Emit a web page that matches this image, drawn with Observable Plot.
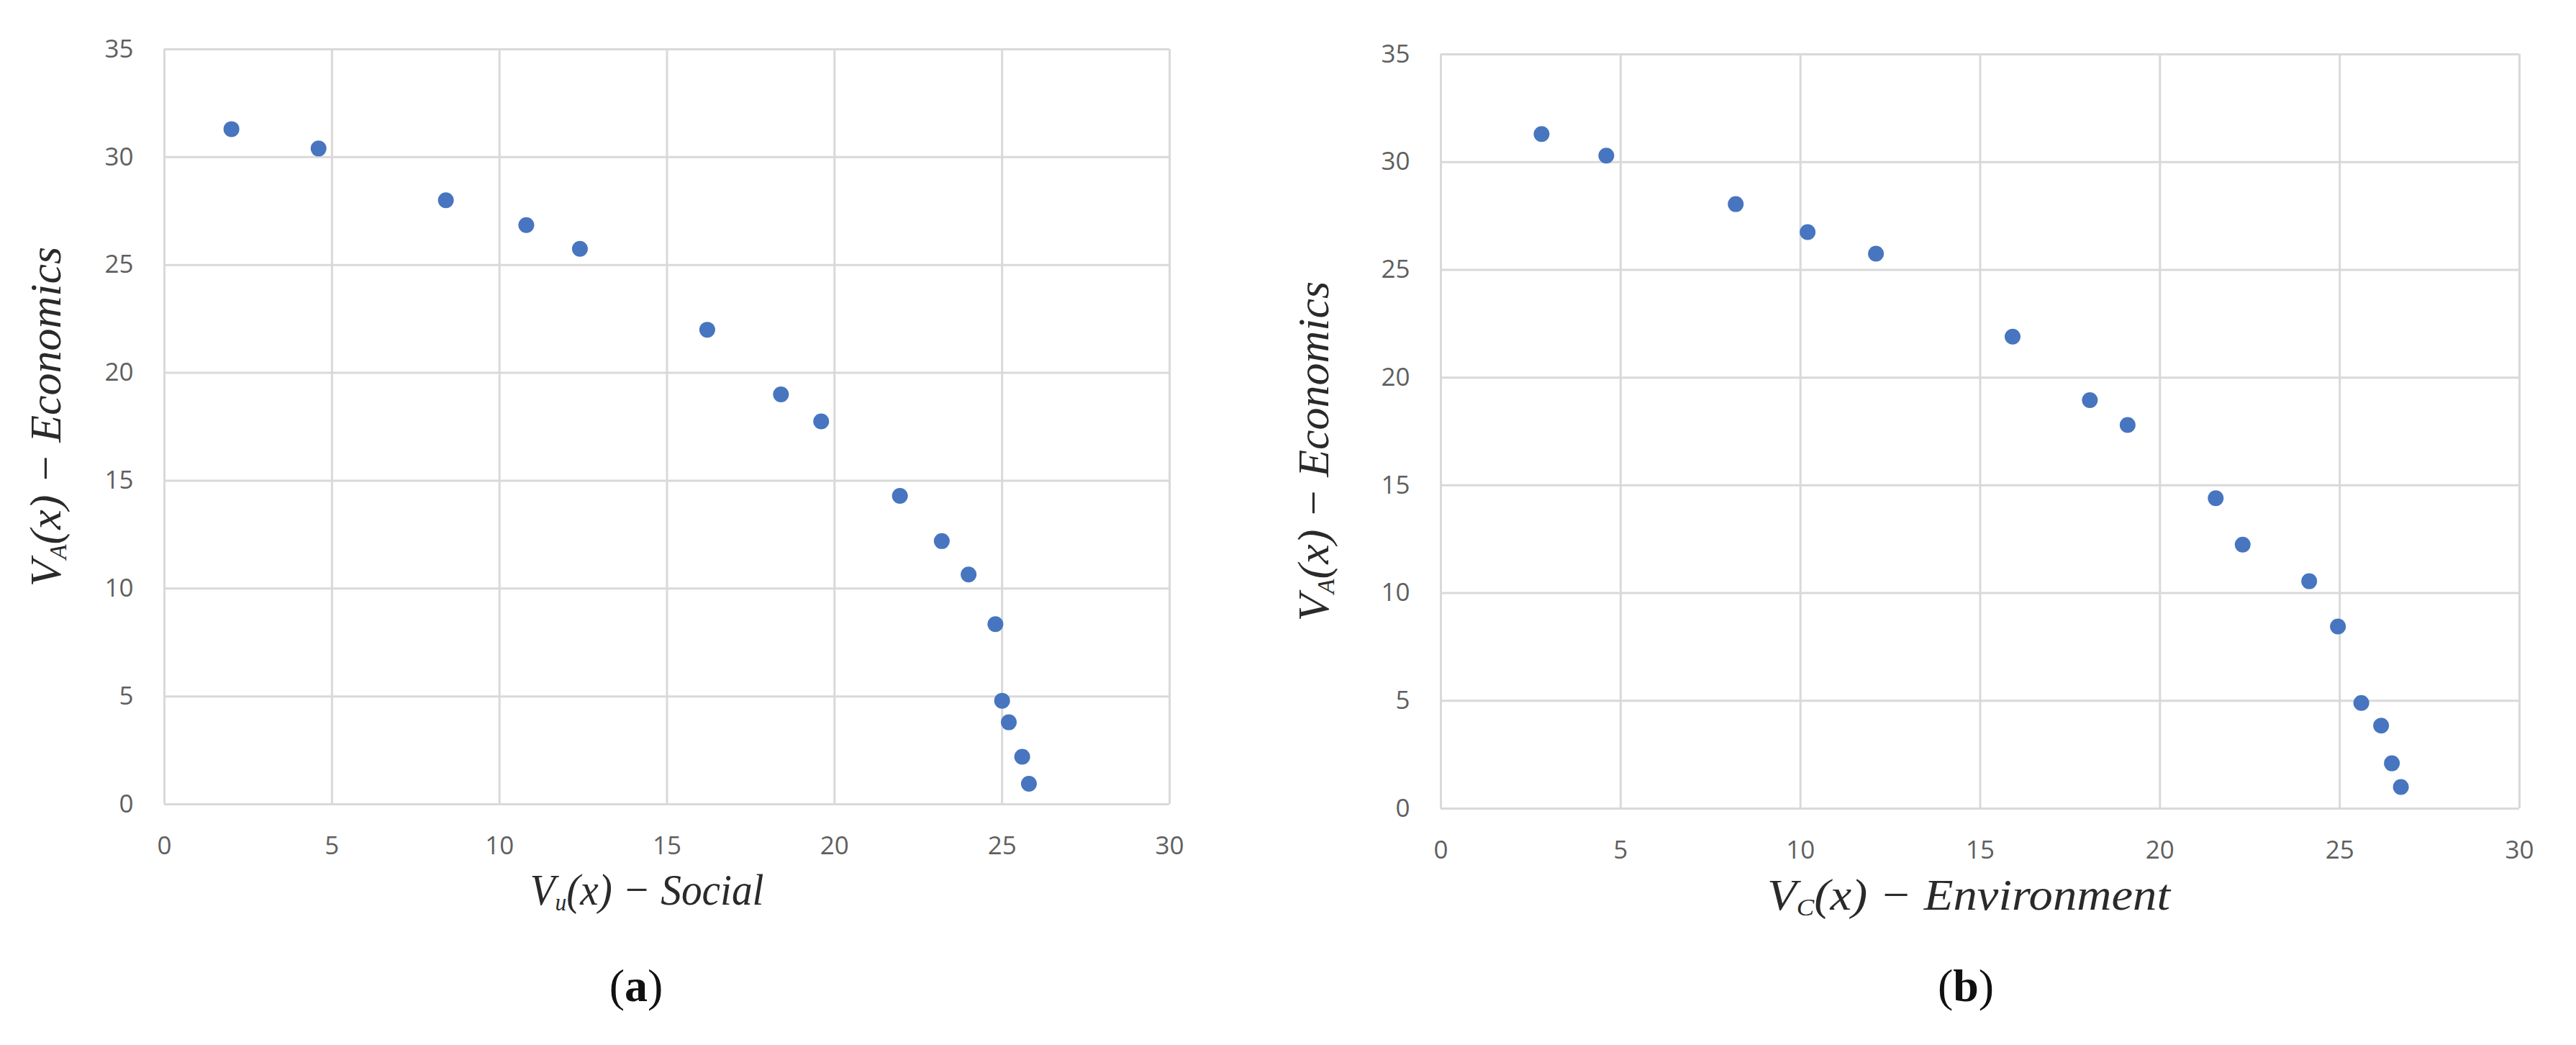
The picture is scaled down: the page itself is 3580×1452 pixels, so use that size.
<!DOCTYPE html>
<html>
<head>
<meta charset="utf-8">
<script src="https://cdn.jsdelivr.net/npm/d3@7"></script>
<script src="https://cdn.jsdelivr.net/npm/@observablehq/plot@0.6"></script>
<style>
  html, body { margin: 0; padding: 0; background: #fff; }
  #page { position: relative; width: 3580px; height: 1452px; overflow: hidden; background: #fff; }
  .panel { position: absolute; top: 0; }
  .cap { position: absolute; font-family: "Liberation Serif", "DejaVu Serif", serif; font-size: 64px; color: #111; transform: translate(-50%, -50%); white-space: nowrap; }
  .cap b { font-weight: bold; }
</style>
</head>
<body>
<div id="page"></div>
<script>
// ---- data ----
const xSocial = [2.0, 4.6, 8.4, 10.8, 12.4, 16.2, 18.4, 19.6, 21.95, 23.2, 24.0, 24.8, 25.0, 25.2, 25.6, 25.8];
const yEconA  = [31.3, 30.4, 28.0, 26.85, 25.75, 22.0, 19.0, 17.75, 14.3, 12.2, 10.65, 8.35, 4.8, 3.8, 2.2, 0.95];
const xEnv    = [2.8, 4.6, 8.2, 10.2, 12.1, 15.9, 18.05, 19.1, 21.55, 22.3, 24.15, 24.95, 25.6, 26.15, 26.45, 26.7];
const yEconB  = [31.3, 30.3, 28.05, 26.75, 25.75, 21.9, 18.95, 17.8, 14.4, 12.25, 10.55, 8.45, 4.9, 3.85, 2.1, 1.0];
const xTicks = [0, 5, 10, 15, 20, 25, 30];
const yTicks = [0, 5, 10, 15, 20, 25, 30, 35];
const yLabelParts = ["V", "A", "(x) \u2212 Economics"];
const xLabelA = ["V", "u", "(x) \u2212 Social"];
const xLabelB = ["V", "C", "(x) \u2212 Environment"];
const captions = ["a", "b"];

const page = document.getElementById("page");

function panel(cfg) {
  const data = cfg.xs.map((x, i) => ({x, y: cfg.ys[i]}));
  const svg = Plot.plot({
    width: cfg.width,
    height: 1300,
    marginLeft: cfg.ml, marginRight: cfg.mr, marginTop: cfg.mt, marginBottom: cfg.mb,
    x: {domain: [0, 30], ticks: xTicks, label: null},
    y: {domain: [0, 35], ticks: yTicks, label: null},
    style: {fontFamily: "'Open Sans', sans-serif", fontSize: "35px", color: "#5f5f5f", background: "white", overflow: "visible"},
    marks: [
      Plot.gridX(xTicks, {stroke: "#d9d9d9", strokeOpacity: 1, strokeWidth: 3}),
      Plot.gridY(yTicks, {stroke: "#d9d9d9", strokeOpacity: 1, strokeWidth: 3}),
      Plot.axisX(xTicks, {tickSize: 0, tickPadding: 45, label: null}),
      Plot.axisY(yTicks, {tickSize: 0, tickPadding: 43, label: null}),
      Plot.dot(data, {x: "x", y: "y", r: 11, fill: "#4775bf", stroke: null})
    ]
  });
  const s = d3.select(svg);
  const fs = 62;
  // x-axis title
  const xt = s.append("text")
    .attr("x", cfg.xtx).attr("y", cfg.xty)
    .attr("text-anchor", "middle").attr("dominant-baseline", "middle")
    .attr("font-family", "'Liberation Serif', serif").attr("font-style", "italic")
    .attr("font-size", fs).attr("fill", "#2a2a2a");
  xt.append("tspan").text(cfg.xlab[0]);
  xt.append("tspan").attr("font-size", fs * 0.55).attr("dy", 14).text(cfg.xlab[1]);
  xt.append("tspan").attr("dy", -14).text(cfg.xlab[2]);
  if (cfg.xtLen) xt.attr("textLength", cfg.xtLen).attr("lengthAdjust", "spacingAndGlyphs");
  // y-axis title
  const yt = s.append("text")
    .attr("transform", `translate(${cfg.ytx},${cfg.yty}) rotate(-90)`)
    .attr("text-anchor", "middle").attr("dominant-baseline", "middle")
    .attr("font-family", "'Liberation Serif', serif").attr("font-style", "italic")
    .attr("font-size", fs).attr("fill", "#2a2a2a");
  yt.append("tspan").text(yLabelParts[0]);
  yt.append("tspan").attr("font-size", fs * 0.55).attr("dy", 14).text(yLabelParts[1]);
  yt.append("tspan").attr("dy", -14).text(yLabelParts[2]);

  const div = document.createElement("div");
  div.className = "panel";
  div.style.left = cfg.left + "px";
  div.appendChild(svg);
  page.appendChild(div);

  const cap = document.createElement("div");
  cap.className = "cap";
  cap.style.left = (cfg.left + cfg.capx) + "px";
  cap.style.top = "1370px";
  cap.innerHTML = "(<b>" + cfg.cap + "</b>)";
  page.appendChild(cap);
}

panel({left: 0, width: 1750, ml: 228, mr: 125, mt: 68, mb: 183,
  xs: xSocial, ys: yEconA, xlab: xLabelA,
  xtx: 899, xty: 1243, xtLen: 325, ytx: 70, yty: 579, cap: captions[0], capx: 884});
panel({left: 1750, width: 1830, ml: 252, mr: 79, mt: 75, mb: 177,
  xs: xEnv, ys: yEconB, xlab: xLabelB,
  xtx: 986, xty: 1250, xtLen: 560, ytx: 82, yty: 627, cap: captions[1], capx: 982});
</script>
</body>
</html>
